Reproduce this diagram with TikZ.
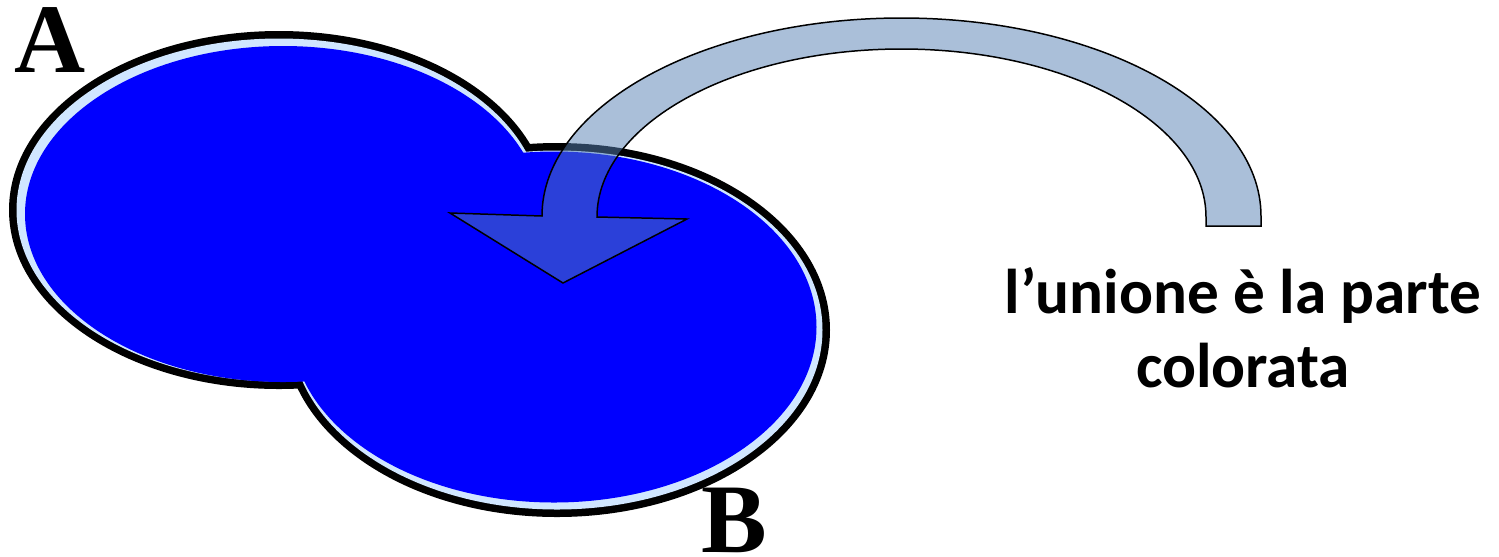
\documentclass[tikz,border=0pt]{standalone}
\usepackage{fontspec}
\usepackage{tikz}
\usepackage{xcolor}
\newfontfamily\setlabelfont{Liberation Serif}
\newfontfamily\notefont{Carlito}
\definecolor{unionblue}{RGB}{0,0,255}
\definecolor{rimblue}{RGB}{208,230,255}
\definecolor{bandblue}{RGB}{86,128,180}

\begin{document}
\begin{tikzpicture}[x=0.02cm, y=-0.02cm, line join=miter]
    \useasboundingbox (0,0) rectangle (1499,556);
    % outer black edge of A and B
    \fill[black] (279,210) ellipse [x radius=270, y radius=179];
    \fill[black] (557,330) ellipse [x radius=273, y radius=187];
    % light rim
    \fill[rimblue] (279,210) ellipse [x radius=262.5, y radius=171.5];
    \fill[rimblue] (557,330) ellipse [x radius=265.5, y radius=179.5];
    % blue union
    \fill[unionblue] (283,214) ellipse [x radius=258, y radius=168];
    \fill[unionblue] (554,327) ellipse [x radius=262.5, y radius=175.5];
    % curved arrow
    \draw[line width=0.85pt, fill=bandblue, fill opacity=0.5]
          (563,283) -- (687,219) -- (597,217)
          arc[start angle=180, end angle=360, x radius=304.5, y radius=168]
          -- (1206,226) -- (1261,226) -- (1261,216)
          arc[start angle=0, end angle=-180, x radius=359.5, y radius=198]
          -- (450,213) -- cycle;
    % set labels
    \node[font=\setlabelfont\bfseries\fontsize{56}{60}\selectfont, inner sep=0, anchor=base] (labelA) at (50,72) {A};
    \node[font=\setlabelfont\bfseries\fontsize{56}{60}\selectfont, inner sep=0, anchor=base] (labelB) at (734,552) {B};
    % caption
    \node[font=\notefont\bfseries\fontsize{36}{42}\selectfont, align=center, inner sep=0, anchor=base] (caption) at (1243,387) {l’unione è la parte\\colorata};
\end{tikzpicture}
\end{document}
